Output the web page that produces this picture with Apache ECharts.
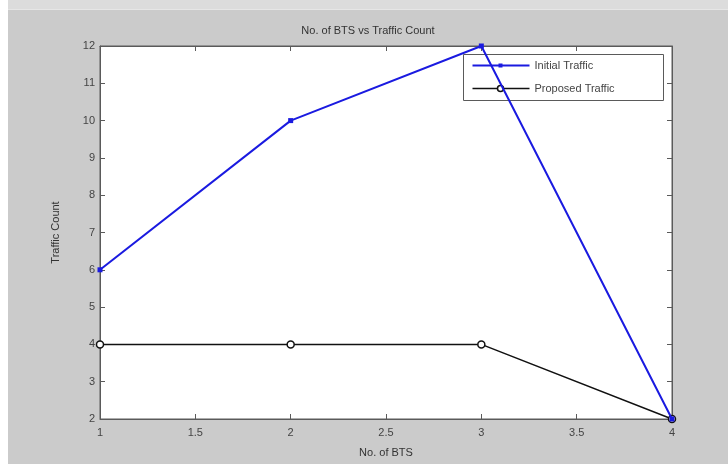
<!DOCTYPE html>
<html>
<head>
<meta charset="utf-8">
<script src="https://cdn.jsdelivr.net/npm/echarts@6/dist/echarts.min.js"></script>
<style>
  html, body { margin: 0; padding: 0; background: #ffffff; }
  #frame { position: absolute; left: 0; top: 0; width: 728px; height: 464px; background: #ffffff; }
  #topstrip { position: absolute; left: 8px; top: 0; width: 720px; height: 9px; background: #dcdcdc; border-bottom: 1px solid #e6e6e6; }
  #chart { position: absolute; left: 8px; top: 10px; width: 720px; height: 454px; }
</style>
</head>
<body>
<div id="frame"></div>
<div id="topstrip"></div>
<div id="chart"></div>
<script>
// Number of base stations on the x axis
const btsCount = [1, 2, 3, 4];
// Traffic count per configuration
const initialTraffic = [6, 10, 12, 2];
const proposedTraffic = [4, 4, 4, 2];
const seriesNames = ['Initial Traffic', 'Proposed Traffic'];

const toPairs = (xs, ys) => xs.map((x, i) => [x, ys[i]]);

const chart = echarts.init(document.getElementById('chart'), null, { renderer: 'canvas' });

const axisColor = '#5a5a5a';
const labelColor = '#444444';
const font = 'Liberation Sans, Arial, sans-serif';

chart.setOption({
  backgroundColor: '#cbcbcb',
  animation: false,
  title: {
    text: 'No. of BTS vs Traffic Count',
    left: 'center',
    top: 10,
    textStyle: { fontSize: 11, fontWeight: 'normal', color: '#333', fontFamily: font }
  },
  legend: {
    show: false
  },
  grid: {
    left: 92, right: 56, top: 36, bottom: 45,
    show: true, backgroundColor: '#ffffff', borderColor: axisColor, borderWidth: 1
  },
  xAxis: [{
    type: 'value', min: 1, max: 4, interval: 0.5,
    name: 'No. of BTS', nameLocation: 'middle', nameGap: 28,
    nameTextStyle: { fontSize: 11, color: '#333', fontFamily: font },
    axisLine: { show: true, lineStyle: { color: axisColor } },
    axisTick: { show: true, inside: true, length: 5, lineStyle: { color: axisColor } },
    axisLabel: { fontSize: 11, color: labelColor, fontFamily: font, margin: 8 },
    splitLine: { show: false }
  }, {
    type: 'value', min: 1, max: 4, interval: 0.5, position: 'top',
    axisLine: { show: true, lineStyle: { color: axisColor } },
    axisTick: { show: true, inside: true, length: 5, lineStyle: { color: axisColor } },
    axisLabel: { show: false },
    splitLine: { show: false }
  }],
  yAxis: [{
    type: 'value', min: 2, max: 12, interval: 1,
    name: 'Traffic Count', nameLocation: 'middle', nameGap: 39,
    nameTextStyle: { fontSize: 11, color: '#333', fontFamily: font },
    axisLine: { show: true, lineStyle: { color: axisColor } },
    axisTick: { show: true, inside: true, length: 5, lineStyle: { color: axisColor } },
    axisLabel: { fontSize: 11, color: labelColor, fontFamily: font, margin: 5 },
    splitLine: { show: false }
  }, {
    type: 'value', min: 2, max: 12, interval: 1, position: 'right',
    axisLine: { show: true, lineStyle: { color: axisColor } },
    axisTick: { show: true, inside: true, length: 5, lineStyle: { color: axisColor } },
    axisLabel: { show: false },
    splitLine: { show: false }
  }],
  series: [{
    name: seriesNames[0],
    type: 'line',
    data: toPairs(btsCount, initialTraffic),
    symbol: 'rect', symbolSize: 5,
    lineStyle: { color: '#1a1ae0', width: 2 },
    itemStyle: { color: '#1a1ae0' },
    z: 3
  }, {
    name: seriesNames[1],
    type: 'line',
    data: toPairs(btsCount, proposedTraffic),
    symbol: 'circle', symbolSize: 7,
    lineStyle: { color: '#111111', width: 1.5 },
    itemStyle: { color: '#ffffff', borderColor: '#111111', borderWidth: 1.5 },
    z: 2
  }],
  graphic: [{
    // legend box in the upper right of the plot area
    type: 'group',
    left: 455, top: 44,
    z: 100,
    children: [{
      type: 'rect',
      shape: { x: 0, y: 0, width: 200, height: 46 },
      style: { fill: '#ffffff', stroke: axisColor, lineWidth: 1 }
    }, {
      type: 'line',
      shape: { x1: 9, y1: 11, x2: 66, y2: 11 },
      style: { stroke: '#1a1ae0', lineWidth: 2 }
    }, {
      type: 'rect',
      shape: { x: 35, y: 9, width: 4, height: 4 },
      style: { fill: '#1a1ae0' }
    }, {
      type: 'text',
      style: { x: 71, y: 11, text: seriesNames[0], fill: '#444', font: '11px ' + font, verticalAlign: 'middle' }
    }, {
      type: 'line',
      shape: { x1: 9, y1: 34, x2: 66, y2: 34 },
      style: { stroke: '#111111', lineWidth: 1.5 }
    }, {
      type: 'circle',
      shape: { cx: 37, cy: 34, r: 3 },
      style: { fill: '#ffffff', stroke: '#111111', lineWidth: 1.5 }
    }, {
      type: 'text',
      style: { x: 71, y: 34, text: seriesNames[1], fill: '#444', font: '11px ' + font, verticalAlign: 'middle' }
    }]
  }]
});
</script>
</body>
</html>
